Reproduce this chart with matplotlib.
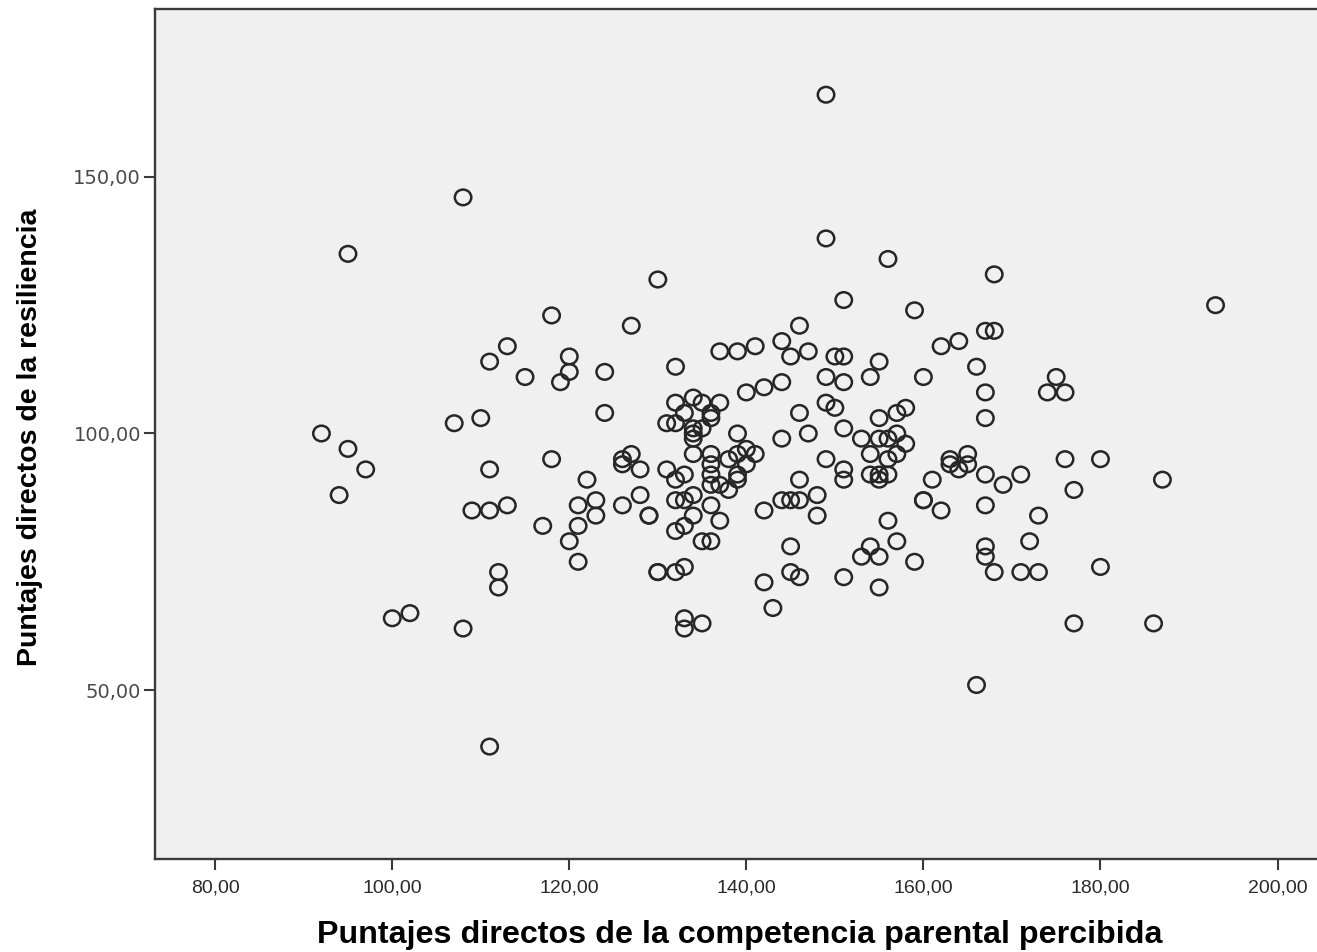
import matplotlib
matplotlib.use("Agg")
import matplotlib.pyplot as plt
from matplotlib.path import Path
from matplotlib.markers import MarkerStyle
from matplotlib.transforms import Affine2D

# ---- data ----
competencia = [
    108, 95, 118, 113, 111, 115, 110, 107, 92, 95, 97, 94, 111, 118, 109, 111, 113, 117, 112, 112, 100, 102, 108, 111,
    149, 149, 156, 130, 151, 159, 127, 146, 144, 141, 139, 137, 162, 164, 147, 145, 150, 151, 155, 120, 120, 119, 124,
    132, 149, 151, 154, 160, 144, 142, 140, 124, 132, 134, 135, 137, 133, 136, 136, 131, 132, 149, 150, 146, 155, 157, 158,
    168, 193, 167, 168, 166, 167, 167, 175, 174, 176,
    134, 134, 134, 135, 139, 134, 136, 136, 136, 136, 138, 139, 140, 141, 140, 139, 139, 138, 137, 126, 126, 127, 128,
    122, 131, 132, 133, 128, 121, 123, 123, 126, 129, 129, 132, 133, 134, 136, 134, 137, 121, 120, 121, 132, 133, 135, 136,
    130, 130, 132, 133, 133, 133, 135,
    144, 147, 151, 153, 155, 156, 157, 158, 154, 157, 156, 155, 156, 154, 155, 149, 151, 151, 146, 163, 163, 164, 165,
    165, 161, 160, 160, 162, 144, 145, 146, 148, 142, 148, 156, 145, 145, 146, 142, 143, 151, 154, 153, 155, 157, 159, 155,
    167, 169, 171, 176, 180, 187, 177, 167, 173, 172, 167, 167, 168, 171, 173, 180, 177, 186, 166,
]
resiliencia = [
    146, 135, 123, 117, 114, 111, 103, 102, 100, 97, 93, 88, 93, 95, 85, 85, 86, 82, 73, 70, 64, 65, 62, 39,
    166, 138, 134, 130, 126, 124, 121, 121, 118, 117, 116, 116, 117, 118, 116, 115, 115, 115, 114, 115, 112, 110, 112,
    113, 111, 110, 111, 111, 110, 109, 108, 104, 106, 107, 106, 106, 104, 104, 103, 102, 102, 106, 105, 104, 103, 104, 105,
    131, 125, 120, 120, 113, 108, 103, 111, 108, 108,
    101, 100, 99, 101, 100, 96, 96, 94, 92, 90, 95, 96, 97, 96, 94, 92, 91, 89, 90, 95, 94, 96, 93,
    91, 93, 91, 92, 88, 86, 87, 84, 86, 84, 84, 87, 87, 88, 86, 84, 83, 82, 79, 75, 81, 82, 79, 79,
    73, 73, 73, 74, 64, 62, 63,
    99, 100, 101, 99, 99, 99, 100, 98, 96, 96, 95, 92, 92, 92, 91, 95, 93, 91, 91, 95, 94, 93, 96,
    94, 91, 87, 87, 85, 87, 87, 87, 88, 85, 84, 83, 78, 73, 72, 71, 66, 72, 78, 76, 76, 79, 75, 70,
    92, 90, 92, 95, 95, 91, 89, 86, 84, 79, 78, 76, 73, 73, 73, 74, 63, 63, 51,
]

x_ticks = [80, 100, 120, 140, 160, 180, 200]
x_tick_labels = ["80,00", "100,00", "120,00", "140,00", "160,00", "180,00", "200,00"]
y_ticks = [50, 100, 150]
y_tick_labels = ["50,00", "100,00", "150,00"]
x_label = "Puntajes directos de la competencia parental percibida"
y_label = "Puntajes directos de la resiliencia"

# ---- figure ----
W, H = 1317, 952
fig = plt.figure(figsize=(W / 100, H / 100), dpi=100, facecolor="white")
ax_left, ax_right, ax_top, ax_bottom = 155, 1320, 9, 859
ax = fig.add_axes([ax_left / W, 1 - ax_bottom / H, (ax_right - ax_left) / W, (ax_bottom - ax_top) / H])
ax.set_facecolor("#f0f0f0")

# open, very slightly wide ring marker (as in the reference)
ellipse = Path.unit_circle().transformed(Affine2D().scale(1.0, 0.95))
marker = MarkerStyle(ellipse)

ax.scatter(competencia, resiliencia, s=140, marker=marker, facecolors="none",
           edgecolors="#262626", linewidths=1.8, zorder=3)

ax.set_xlim(73.2, 204.8)
ax.set_ylim(17.1, 182.7)

ax.set_xticks(x_ticks)
ax.set_xticklabels(x_tick_labels)
ax.set_yticks(y_ticks)
ax.set_yticklabels(y_tick_labels)

for side in ["left", "bottom", "top", "right"]:
    ax.spines[side].set_color("#3a3a3a")
    ax.spines[side].set_linewidth(1.7)

ax.tick_params(axis="both", direction="out", color="#3a3a3a", width=1.5)
ax.tick_params(axis="x", length=8, pad=7, labelsize=14, labelcolor="#2a2a2a")
ax.tick_params(axis="y", length=8, pad=2, labelsize=14, labelcolor="#4a4a4a")
for lab in ax.get_xticklabels():
    lab.set_family(["Liberation Sans", "DejaVu Sans"])
for lab in ax.get_yticklabels():
    lab.set_family(["DejaVu Sans"])

fig.text(740 / W, 1 - 935 / H, x_label, fontsize=23.2, fontweight="bold",
         family=["Liberation Sans", "DejaVu Sans"], ha="center", va="center", color="black")
fig.text(30 / W, 1 - 437 / H, y_label, fontsize=20.5, fontweight="bold", rotation=90,
         family=["Liberation Sans", "DejaVu Sans"], ha="center", va="center", color="black")

fig.savefig("out.png", dpi=100, facecolor="white")
